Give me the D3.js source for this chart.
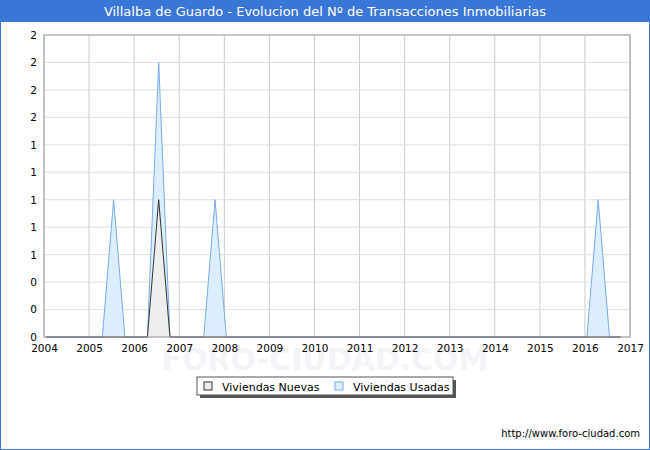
<!DOCTYPE html>
<html><head><meta charset="utf-8">
<script src="https://cdn.jsdelivr.net/npm/d3@7"></script>
<style>body{margin:0}svg{font-family:Verdana,"DejaVu Sans",sans-serif}</style></head>
<body><svg width="650" height="450"></svg>
<script>
const years=d3.range(2004,2018);
const quarters=d3.range(0,52).map(i=>2004+i*0.25);
const nuevasPts={2006.5:1};
const usadasPts={2005.5:1,2006.5:2,2007.75:1,2016.25:1};
const nuevas=quarters.map(q=>nuevasPts[q]||0);
const usadas=quarters.map(q=>usadasPts[q]||0);
const yTicks=d3.range(0,12).map(i=>i*0.2);

const svg=d3.select("svg");
svg.append("rect").attr("x",0.5).attr("y",0.5).attr("width",649).attr("height",449).attr("fill","#fff").attr("stroke","#3a78d8");
svg.append("rect").attr("x",0).attr("y",0).attr("width",650).attr("height",22).attr("fill","#3a78d8");
svg.append("text").attr("x",325).attr("y",16).attr("text-anchor","middle").attr("fill","#fff").attr("font-size",13).text("Villalba de Guardo - Evolucion del Nº de Transacciones Inmobiliarias");

const x=d3.scaleLinear().domain([2004,2017]).range([44,630]);
const y=d3.scaleLinear().domain([0,2.2]).range([337,35]);

svg.append("text").attr("x",325).attr("y",370).attr("text-anchor","middle").attr("font-size",30).attr("font-weight","bold").attr("fill","#f3f4f8").text("FORO-CIUDAD.COM");

const g=svg.append("g");
g.selectAll(".v").data(years).join("line").attr("x1",d=>x(d)).attr("x2",d=>x(d)).attr("y1",35).attr("y2",337).attr("stroke","#ccc");
g.selectAll(".h").data(yTicks).join("line").attr("x1",44).attr("x2",630).attr("y1",d=>y(d)).attr("y2",d=>y(d)).attr("stroke","#e0e0e0");

const area=d3.area().x((d,i)=>x(quarters[i])+2).y0(y(0)).y1(d=>y(d));
const line=d3.line().x((d,i)=>x(quarters[i])+2).y(d=>y(d));
g.append("path").datum(usadas).attr("d",area).attr("fill","#ddeeff");
g.append("path").datum(usadas).attr("d",line).attr("fill","none").attr("stroke","#7aaae8");
g.append("path").datum(nuevas).attr("d",area).attr("fill","#eeeeee");
g.append("path").datum(nuevas).attr("d",line).attr("fill","none").attr("stroke","#333");

svg.append("rect").attr("x",44).attr("y",35).attr("width",586).attr("height",302).attr("fill","none").attr("stroke","#999");

const xa=svg.append("g").attr("transform","translate(0,337)").call(d3.axisBottom(x).tickValues(years).tickFormat(d3.format("d")).tickSize(0).tickPadding(8));
const ya=svg.append("g").attr("transform","translate(44,0)").call(d3.axisLeft(y).tickValues(yTicks).tickFormat(d=>Math.round(d)).tickSize(0).tickPadding(7));
[xa,ya].forEach(a=>{a.select(".domain").remove();a.selectAll("text").attr("font-size",10.5).attr("fill","#000").attr("font-family","Verdana,DejaVu Sans,sans-serif");});

const lg=svg.append("g");
lg.append("rect").attr("x",200).attr("y",380).attr("width",256).attr("height",18).attr("fill","#555");
lg.append("rect").attr("x",197).attr("y",377).attr("width",256).attr("height",18).attr("fill","#fff").attr("stroke","#555");
const items=[["Viviendas Nuevas","#eeeeee","#333",204],["Viviendas Usadas","#ddeeff","#7aaae8",335]];
items.forEach(([t,f,s,lx])=>{
 lg.append("rect").attr("x",lx).attr("y",382).attr("width",8).attr("height",8).attr("fill",f).attr("stroke",s);
 lg.append("text").attr("x",lx+18).attr("y",391).attr("font-size",11).text(t);
});
svg.append("text").attr("x",640).attr("y",437).attr("text-anchor","end").attr("font-size",10).text("http://www.foro-ciudad.com");
</script></body></html>
